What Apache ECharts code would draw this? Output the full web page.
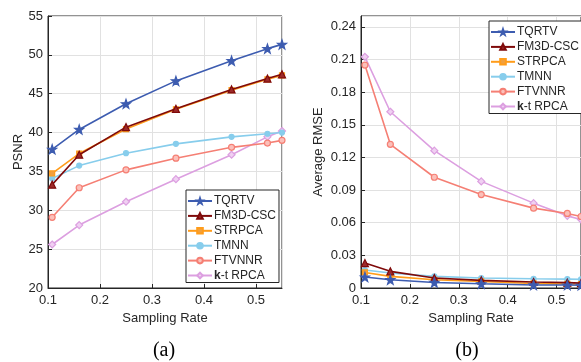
<!DOCTYPE html>
<html>
<head>
<meta charset="utf-8">
<script src="https://cdn.jsdelivr.net/npm/echarts@6/dist/echarts.min.js"></script>
<style>
  html, body {margin: 0; padding: 0; background: #fff;}
  #chart {width: 581px; height: 362px;}
</style>
</head>
<body>
<div id="chart"></div>
<script>
// sampling rates used in both panels
const rates = [0.108, 0.16, 0.25, 0.346, 0.453, 0.522, 0.55];
const methods = ['TQRTV', 'FM3D-CSC', 'STRPCA', 'TMNN', 'FTVNNR', 'k-t RPCA'];

// (a) PSNR
const psnrTQRTV = [37.85, 40.4, 43.7, 46.65, 49.25, 50.8, 51.35];
const psnrFM3D = [33.3, 37.15, 40.7, 43.05, 45.55, 46.95, 47.5];
const psnrSTRPCA = [34.75, 37.3, 40.45, 43.0, 45.45, 46.85, 47.35];
const psnrTMNN = [34.1, 35.75, 37.35, 38.55, 39.45, 39.85, 40.0];
const psnrFTVNNR = [29.1, 32.9, 35.2, 36.7, 38.1, 38.65, 39.0];
const psnrKT = [25.6, 28.1, 31.1, 34.0, 37.15, 39.45, 40.2];

// (b) Average RMSE
const rmseTQRTV = [0.0101, 0.0076, 0.0051, 0.0039, 0.0028, 0.0027, 0.0025];
const rmseFM3D = [0.0229, 0.0153, 0.0092, 0.0070, 0.0055, 0.0049, 0.0045];
const rmseSTRPCA = [0.0143, 0.0107, 0.0076, 0.0060, 0.0042, 0.0037, 0.0035];
const rmseTMNN = [0.0165, 0.0138, 0.0107, 0.0092, 0.0085, 0.0082, 0.0080];
const rmseFTVNNR = [0.2049, 0.1321, 0.1018, 0.0859, 0.0734, 0.0685, 0.0657];
const rmseKT = [0.2125, 0.162, 0.1262, 0.098, 0.078, 0.0663, 0.063];

const star = 'path://M0,-10L2.35,-3.24L9.51,-3.09L3.8,1.24L5.88,8.09L0,4L-5.88,8.09L-3.8,1.24L-9.51,-3.09L-2.35,-3.24Z';
const styles = [
    {color: '#3d5cb0', symbol: star, size: 9, fill: '#3d5cb0'},
    {color: '#7f0a0a', symbol: 'triangle', size: 7, fill: '#9c2a2a'},
    {color: '#ff9c1a', symbol: 'rect', size: 5, fill: '#f0a040'},
    {color: '#87cdec', symbol: 'circle', size: 5, fill: '#87cdec'},
    {color: '#f57f74', symbol: 'circle', size: 6, fill: '#fbc0ba'},
    {color: '#dc9fe0', symbol: 'diamond', size: 7, fill: '#f0d0f2'}
];

const psnr = [psnrTQRTV, psnrFM3D, psnrSTRPCA, psnrTMNN, psnrFTVNNR, psnrKT];
const rmse = [rmseTQRTV, rmseFM3D, rmseSTRPCA, rmseTMNN, rmseFTVNNR, rmseKT];

const font = 'Liberation Sans';
const ink = '#262626';

const makeSeries = (sets, idx) => sets.map((vals, i) => ({
    name: methods[i],
    type: 'line',
    xAxisIndex: idx,
    yAxisIndex: idx,
    data: rates.map((r, k) => [r, vals[k]]),
    symbol: styles[i].symbol,
    symbolSize: styles[i].size,
    lineStyle: {width: 1.6, color: styles[i].color},
    itemStyle: {color: styles[i].fill, borderColor: styles[i].color, borderWidth: 1.2},
    z: 10 - i,
    animation: false
}));

const xAxisBase = {
    type: 'value',
    min: 0.1,
    max: 0.55,
    interval: 0.1,
    name: 'Sampling Rate',
    nameLocation: 'middle',
    nameGap: 24,
    nameTextStyle: {color: ink, fontSize: 13, fontFamily: font},
    axisLine: {show: true, lineStyle: {color: ink}},
    axisTick: {inside: true, length: 4, lineStyle: {color: ink}},
    axisLabel: {color: ink, fontSize: 13, fontFamily: font, margin: 6, showMaxLabel: false},
    splitLine: {show: true, lineStyle: {color: '#e1e1e1'}}
};

const legendBase = {
    orient: 'vertical',
    backgroundColor: '#fff',
    borderColor: ink,
    borderWidth: 1,
    padding: [5, 3, 1, 1],
    itemWidth: 24,
    itemHeight: 7,
    itemGap: 2.9,
    data: methods,
    textStyle: {
        color: ink, fontSize: 12, lineHeight: 12, fontFamily: font, padding: [0, 0, 0, -3],
        rich: {b: {fontWeight: 'bold', fontSize: 12, lineHeight: 12, fontFamily: font, color: ink}}
    },
    formatter: name => name === 'k-t RPCA' ? '{b|k}-t RPCA' : name
};

const chart = echarts.init(document.getElementById('chart'));
chart.setOption({
    backgroundColor: '#fff',
    animation: false,
    title: [
        {text: '(a)', left: 159, top: 336, textAlign: 'center',
            textStyle: {fontFamily: 'Liberation Serif', fontSize: 20, fontWeight: 'normal', color: '#000'}},
        {text: '(b)', left: 462, top: 336, textAlign: 'center',
            textStyle: {fontFamily: 'Liberation Serif', fontSize: 20, fontWeight: 'normal', color: '#000'}}
    ],
    grid: [
        {left: 48, top: 16, width: 234, height: 272, show: true, borderColor: ink, borderWidth: 1},
        {left: 361, top: 16, width: 224, height: 272, show: true, borderColor: ink, borderWidth: 1}
    ],
    legend: [
        Object.assign({}, legendBase, {left: 186, top: 190}),
        Object.assign({}, legendBase, {left: 489, top: 21})
    ],
    xAxis: [
        Object.assign({}, xAxisBase, {gridIndex: 0}),
        Object.assign({}, xAxisBase, {gridIndex: 1})
    ],
    yAxis: [
        {
            gridIndex: 0, type: 'value', min: 20, max: 55, interval: 5,
            name: 'PSNR', nameLocation: 'middle', nameGap: 22,
            nameTextStyle: {color: ink, fontSize: 13, fontFamily: font},
            axisLine: {show: true, lineStyle: {color: ink}},
            axisTick: {inside: true, length: 4, lineStyle: {color: ink}},
            axisLabel: {color: ink, fontSize: 13, fontFamily: font, margin: 5},
            splitLine: {show: true, lineStyle: {color: '#e1e1e1'}}
        },
        {
            gridIndex: 1, type: 'value', min: 0, max: 0.25, interval: 0.03,
            name: 'Average RMSE', nameLocation: 'middle', nameGap: 36,
            nameTextStyle: {color: ink, fontSize: 13, fontFamily: font},
            axisLine: {show: true, lineStyle: {color: ink}},
            axisTick: {inside: true, length: 4, lineStyle: {color: ink}},
            axisLabel: {color: ink, fontSize: 13, fontFamily: font, margin: 5, showMaxLabel: false,
                formatter: v => v === 0 ? '0' : (+v.toFixed(2)).toFixed(2)},
            splitLine: {show: true, lineStyle: {color: '#e1e1e1'}}
        }
    ],
    series: makeSeries(psnr, 0).concat(makeSeries(rmse, 1))
});
</script>
</body>
</html>
